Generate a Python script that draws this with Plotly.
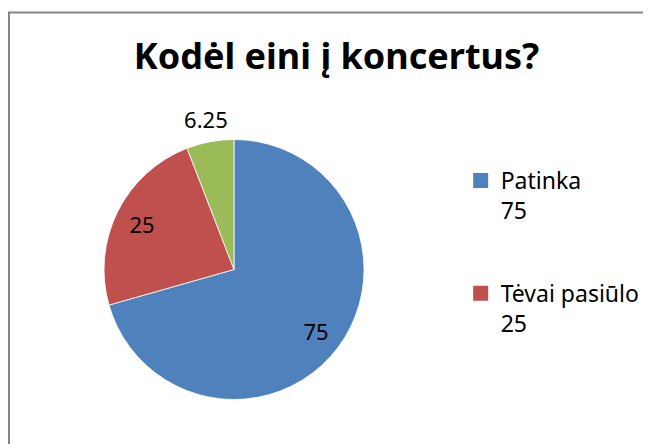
import plotly.graph_objects as go

labels = ['Patinka', 'Tėvai pasiūlo', 'Kita']
values = [75, 25, 6.25]
colors = ['#4F81BD', '#C0504D', '#9BBB59']
legend_shown = 2  # the third entry does not fit in the original legend

W, H = 643, 436  # page body has an 8px margin
clear = ['rgba(0,0,0,0)'] * len(values)
font = dict(family='Noto Sans', size=22, color='black')

fig = go.Figure()

# coloured pie
fig.add_trace(go.Pie(
    labels=labels, values=values, sort=False,
    direction='clockwise', rotation=0,
    marker=dict(colors=colors, line=dict(color='white', width=0.8)),
    textinfo='none', hoverinfo='label+value',
    domain=dict(x=[0.1493, 0.5537], y=[0.1021, 0.6984]),
    showlegend=False,
))

# transparent ring carrying the inside value labels (further out, like Excel)
fig.add_trace(go.Pie(
    labels=labels, values=values, sort=False,
    direction='clockwise', rotation=0, hole=0.58,
    marker=dict(colors=clear, line=dict(width=0)),
    texttemplate=['%{value}', '%{value}', ''],
    textposition='inside', insidetextorientation='horizontal',
    textfont=font, hoverinfo='skip',
    domain=dict(x=[0.1493, 0.5537], y=[0.1021, 0.6984]),
    showlegend=False,
))

# larger transparent ring carrying the small slice label outside the pie
fig.add_trace(go.Pie(
    labels=labels, values=values, sort=False,
    direction='clockwise', rotation=0, hole=0.8,
    marker=dict(colors=clear, line=dict(width=0)),
    texttemplate=['', '', '%{value}'],
    textposition='inside', insidetextorientation='horizontal',
    textfont=font, hoverinfo='skip',
    domain=dict(x=[0.0871, 0.6159], y=[0.0103, 0.7901]),
    showlegend=False,
))

# legend entries
for i in range(legend_shown):
    fig.add_trace(go.Scatter(
        x=[None], y=[None], mode='markers',
        marker=dict(symbol='square', size=15, color=colors[i]),
        name=f'{labels[i]}<br>{values[i]:g}',
        legendgroup=labels[i],
    ))

fig.update_layout(
    width=W, height=H,
    margin=dict(l=0, r=0, t=0, b=0),
    paper_bgcolor='white', plot_bgcolor='white',
    font=dict(family='Noto Sans', color='black'),
    uniformtext=dict(minsize=22, mode='show'),
    title=dict(text='<b>Kodėl eini į koncertus?</b>',
               font=dict(family='Noto Sans', size=36, color='black'),
               x=0.5109, xanchor='center', y=0.8888, yanchor='middle', yref='container'),
    xaxis=dict(visible=False), yaxis=dict(visible=False),
    legend=dict(x=0.704, xanchor='left', y=0.6537, yanchor='top',
                font=dict(family='Noto Sans', size=23, color='black'),
                valign='top', tracegroupgap=50, bgcolor='rgba(0,0,0,0)'),
    shapes=[dict(type='rect', xref='paper', yref='paper',
                 x0=1 / W, x1=1.1, y0=-0.1, y1=1 - 4.5 / H,
                 line=dict(color='#868686', width=2), layer='below')],
)

fig.write_html('out.html')
